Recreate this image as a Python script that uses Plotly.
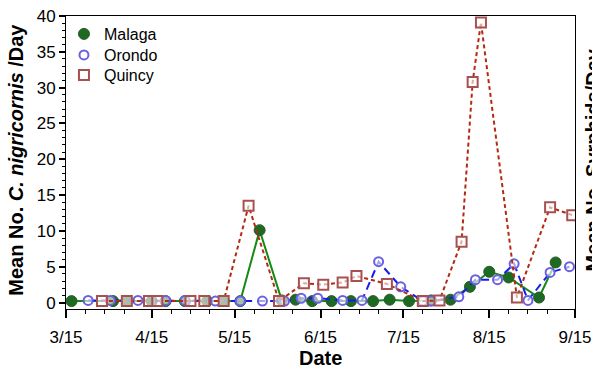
import datetime as dt
import plotly.graph_objects as go

YEAR = "2013"

# Sampling dates (month-day) and mean daily counts per site
malaga_dates = ["03-17", "04-01", "04-06", "04-15", "04-20", "04-27", "05-05", "05-11",
                "05-17", "05-24", "06-01", "06-06", "06-12", "06-19", "06-26", "07-04",
                "07-10", "07-17", "07-25", "08-01", "08-08", "08-15", "08-22", "09-02",
                "09-08"]
malaga_vals = [0.2, 0.2, 0.2, 0.2, 0.2, 0.2, 0.2, 0.2,
               0.2, 10.1, 0.3, 0.4, 0.2, 0.2, 0.2, 0.2,
               0.4, 0.2, 0.3, 0.4, 2.2, 4.3, 3.5, 0.7,
               5.6]

orondo_dates = ["03-23", "03-31", "04-10", "04-20", "04-27", "05-08", "05-17", "05-25",
                "06-02", "06-08", "06-14", "06-23", "06-30", "07-06", "07-14", "07-22",
                "07-25", "08-04", "08-10", "08-18", "08-24", "08-29", "09-06", "09-13"]
orondo_vals = [0.3, 0.3, 0.3, 0.3, 0.3, 0.2, 0.2, 0.2,
               0.2, 0.6, 0.6, 0.3, 0.3, 5.7, 2.2, 0.2,
               0.2, 0.8, 3.2, 3.2, 5.4, 0.3, 4.2, 5.0]

quincy_dates = ["03-28", "04-06", "04-14", "04-17", "04-29", "05-04", "05-11", "05-20",
                "05-31", "06-09", "06-16", "06-23", "06-28", "07-09", "07-22", "07-28",
                "08-05", "08-09", "08-12", "08-25", "09-06", "09-14"]
quincy_vals = [0.2, 0.2, 0.2, 0.2, 0.2, 0.2, 0.2, 13.5,
               0.2, 2.7, 2.5, 2.8, 3.7, 2.6, 0.2, 0.3,
               8.5, 30.8, 39.1, 0.7, 13.3, 12.2]

tick_dates = ["03-15", "04-15", "05-15", "06-15", "07-15", "08-15", "09-15"]
tick_labels = ["3/15", "4/15", "5/15", "6/15", "7/15", "8/15", "9/15"]

FONT = "Liberation Sans, Arial, sans-serif"


def full(dates):
    return [f"{YEAR}-{d}" for d in dates]


# weekly minor ticks between the monthly major ticks
minor_ticks = []
for d in tick_dates[:-1]:
    base = dt.date(int(YEAR), int(d[:2]), int(d[3:]))
    for k in (7, 14, 21):
        minor_ticks.append((base + dt.timedelta(days=k)).isoformat())

series = [
    dict(name="Malaga", x=malaga_dates, y=malaga_vals,
         line=dict(color="#138a13", width=2),
         marker=dict(symbol="circle", size=11, color="#1d6a22",
                     line=dict(color="#2a5a2a", width=1))),
    dict(name="Orondo", x=orondo_dates, y=orondo_vals,
         line=dict(color="#1a1aee", width=2, dash="8px,5px"),
         marker=dict(symbol="circle", size=9, color="rgba(255,255,255,0.6)",
                     line=dict(color="#6a60e0", width=2))),
    dict(name="Quincy", x=quincy_dates, y=quincy_vals,
         line=dict(color="#b32a10", width=2, dash="4px,3px"),
         marker=dict(symbol="square", size=10, color="rgba(255,255,255,0.6)",
                     line=dict(color="#a85050", width=2))),
]

# one small legend box per site, stacked in the upper-left corner
legend_names = ["legend", "legend2", "legend3"]
legend_y = [0.9386, 0.8669, 0.7986]

fig = go.Figure()
for s in series:
    fig.add_trace(go.Scatter(x=full(s["x"]), y=s["y"], mode="lines+markers",
                             line=s["line"], marker=s["marker"],
                             name=s["name"], showlegend=False))
for s, lg in zip(series, legend_names):
    fig.add_trace(go.Scatter(x=[None], y=[None], mode="markers", marker=s["marker"],
                             name=s["name"], showlegend=True, legend=lg))

legend_style = dict(xanchor="left", yanchor="middle", bgcolor="rgba(0,0,0,0)",
                    font=dict(size=16, family=FONT, color="black"), borderwidth=0)
legend_layout = {lg: dict(x=-0.004, y=yy, **legend_style)
                 for lg, yy in zip(legend_names, legend_y)}

fig.update_layout(
    width=592, height=371,
    margin=dict(l=66, r=17, t=16, b=62, autoexpand=False),
    paper_bgcolor="white", plot_bgcolor="white",
    font=dict(family=FONT, color="black"),
    **legend_layout,
    xaxis=dict(type="date", range=[f"{YEAR}-03-15", f"{YEAR}-09-15"],
               tickmode="array", tickvals=full(tick_dates), ticktext=tick_labels,
               ticks="outside", ticklen=8, tickwidth=1.5, tickcolor="black",
               ticklabelstandoff=5, automargin=False,
               showline=True, linecolor="black", linewidth=1, mirror=True,
               showgrid=False, zeroline=False,
               tickfont=dict(size=17, family=FONT),
               minor=dict(tickmode="array", tickvals=minor_ticks, ticks="outside",
                          ticklen=4, tickwidth=1, tickcolor="black", showgrid=False)),
    yaxis=dict(range=[-0.9, 40], tickmode="linear", tick0=0, dtick=5,
               ticks="outside", ticklen=6, tickwidth=1.5, tickcolor="black",
               automargin=False,
               showline=True, linecolor="black", linewidth=1, mirror=True,
               showgrid=False, zeroline=False,
               tickfont=dict(size=17, family=FONT),
               minor=dict(dtick=1, ticks="outside", ticklen=3, tickwidth=1,
                          tickcolor="black", showgrid=False)),
)

fig.add_annotation(text="<b>Mean No. <i>C. nigricornis</i> /Day</b>",
                   xref="paper", yref="paper", x=-0.1, y=0.51,
                   xanchor="center", yanchor="middle", textangle=-90,
                   showarrow=False, font=dict(size=20, family=FONT))
fig.add_annotation(text="<b>Date</b>", xref="paper", yref="paper",
                   x=0.5, y=-0.166, xanchor="center", yanchor="middle",
                   showarrow=False, font=dict(size=20, family=FONT))
# right-hand axis title, running off the edge of the page
fig.add_annotation(text="<b>Mean No. Syrphids/Day</b>", xref="paper", yref="paper",
                   x=1.035, y=0.51, xanchor="center", yanchor="middle", textangle=-90,
                   showarrow=False, font=dict(size=20, family=FONT))

fig.write_html("out.html")
